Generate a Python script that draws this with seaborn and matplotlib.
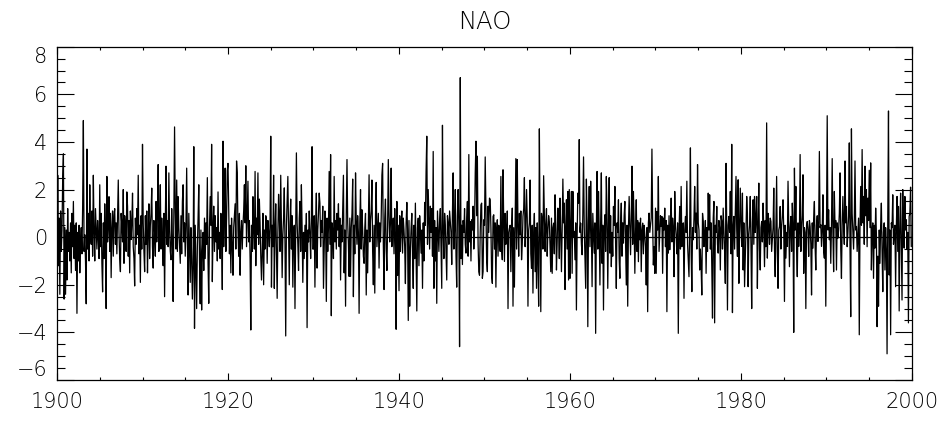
import numpy as np
import pandas as pd
import matplotlib
matplotlib.use("Agg")
import matplotlib.pyplot as plt
import seaborn as sns
from matplotlib.ticker import MultipleLocator, FixedLocator

# Monthly NAO index values, read off the picture decade by decade (Jan..Dec per row)
nao_1900s = [
    -3.0, 2.6, -1.2, 0.8, -2.4, 1.1, -0.6, 0.3, 2.5, 3.5, -2.6, 0.4,
    -2.4, 0.3, -1.8, 1.2, -0.6, 0.2, -1.0, 0.6, -1.5, 1.0, -0.4, 1.5,
    -0.9, 0.5, -1.4, 0.6, -3.2, 0.2, -1.0, 0.5, -1.5, -0.2, 0.4, -0.7,
    1.3, 4.9, -0.6, 0.1, -1.0, -2.8, 3.7, -0.5, 1.0, -1.0, 2.2, 0.1,
    -0.3, 1.1, -0.8, 2.6, 0.2, -1.0, 1.2, 0.3, -0.5, 0.7, 0.0, -0.9,
    2.2, -0.4, 1.0, -1.1, -2.3, 0.6, -0.9, 1.4, 0.3, -3.0, 2.55, -0.2,
    0.5, 1.7, -0.6, 1.0, -1.7, 0.4, 1.1, -0.8, 0.9, 1.2, -0.3, 0.6,
    -0.7, 0.8, 2.4, 0.2, -0.9, -1.45, 1.0, 0.5, -0.2, 2.0, -1.1, 0.9,
    0.4, -0.6, 1.9, 1.3, -0.8, 0.7, -1.5, 1.1, -0.1, 0.6, 1.85, -0.4,
    -0.9, -2.05, 0.8, -0.3, 1.2, 0.1, 2.6, -0.7, 0.5, -1.9, 0.9, -0.5,
]
nao_1910s = [
    3.9, 0.6, -0.6, -1.45, 0.9, -0.3, 1.1, -1.5, 0.2, 1.4, -0.9, 0.5,
    1.0, 2.06, -0.4, -1.3, 0.7, 0.2, -0.8, 1.5, -0.2, 0.9, 3.05, -0.6,
    0.5, 2.2, -0.5, 0.8, 0.1, -1.2, 1.0, -2.5, 0.6, 2.98, -0.3, 0.7,
    -0.4, 2.7, 0.3, -0.6, -0.95, 1.2, -0.1, -2.7, 0.8, 4.63, 1.1, -0.5,
    2.4, -0.6, 1.7, 0.4, -0.3, -1.1, 0.9, -0.7, 1.5, 2.2, -0.2, 0.6,
    -0.8, 0.5, 2.9, -0.2, -2.43, 1.0, -0.5, -1.9, 0.4, -0.9, -2.6, -1.2,
    3.8, -3.83, 0.5, -1.2, -3.0, -0.4, 0.8, 2.2, -1.0, -2.8, 0.3, -3.06,
    -0.6, 0.2, -1.4, 0.8, -0.9, 0.6, -0.3, 2.5, -1.1, -2.78, 0.4, 1.7,
    0.5, 3.9, -1.87, 0.3, 1.3, -0.6, 0.9, -0.2, 0.4, -1.0, 1.9, -0.5,
    0.2, -0.9, 1.0, 0.3, -2.2, 4.03, -0.4, 1.0, 2.9, -0.6, 0.8, 2.8,
]
nao_1920s = [
    3.1, 1.2, -0.7, 0.5, -1.5, 0.8, -0.3, -1.6, 0.4, 0.9, 1.4, -0.5,
    3.2, 2.7, 0.3, -0.8, 1.0, -1.6, 0.2, 0.7, -0.5, 0.5, 1.1, 2.2,
    0.6, 3.0, -0.4, 1.0, 2.35, -0.2, 0.7, -0.9, -3.9, 0.5, -0.6, 1.7,
    0.4, -0.5, 2.76, -1.2, 0.8, 0.1, 2.7, -0.3, 1.6, 0.6, -0.8, -1.8,
    -0.6, 1.0, -2.0, 0.3, -0.5, 0.9, 0.7, -1.1, 0.7, 0.2, -0.4, 0.6,
    4.24, -2.1, 0.5, -0.4, 2.6, -2.15, 0.3, 1.4, -0.7, -2.57, 0.2, 1.8,
    0.9, -0.6, 2.6, 0.4, -1.7, 0.1, 0.8, 2.07, -0.3, -4.15, 0.5, 1.6,
    2.55, 0.2, -2.0, 0.6, 1.6, -0.5, 0.9, -2.1, 0.3, 0.5, -3.0, 0.4,
    3.54, 0.6, -0.3, -1.4, 0.8, 1.5, -0.6, 2.2, 0.4, -1.9, 0.2, -0.9,
    0.5, -0.6, 1.0, -3.8, 0.3, -0.2, 1.1, 0.2, -0.9, 0.6, 3.8, -0.5,
]
nao_1930s = [
    -0.5, 0.9, -2.1, 0.4, 1.85, -1.3, 0.3, 1.0, 1.85, 1.43, -0.4, 0.7,
    0.2, 1.3, -2.15, -0.4, 1.1, 0.5, -2.7, 0.8, -0.6, 0.4, 2.76, -0.3,
    3.47, -3.3, 0.6, 0.25, -0.9, 2.55, -0.2, 0.7, -0.5, 1.0, 0.3, 1.4,
    -0.4, 0.8, -1.8, 0.5, -0.2, 1.1, 2.6, -1.5, 0.3, -2.9, 0.9, 3.26,
    0.6, -0.3, -1.65, 0.8, -1.65, 0.4, 1.0, 2.44, -2.5, 0.5, -0.7, 2.7,
    0.7, -0.3, 0.9, 0.2, -3.2, 0.6, 2.0, -0.5, 1.15, 0.3, -0.8, -1.1,
    0.4, 1.0, -2.43, 0.3, -1.5, 0.7, 2.62, -0.2, 0.7, 1.1, 2.4, -0.6,
    -2.0, 0.5, -2.35, 0.9, 2.3, -0.4, 0.25, 1.0, -1.3, 0.6, -0.2, 0.8,
    2.6, 3.1, -0.3, -2.2, 0.8, 1.6, -0.5, -1.4, 0.4, 3.26, 0.9, -0.2,
    0.6, 2.9, -0.4, 0.3, 0.8, -0.7, 1.2, 0.1, -3.87, 1.5, -1.6, 0.5,
]
nao_1940s = [
    -2.25, 0.9, -0.6, 0.52, 1.1, -0.67, 0.8, 0.3, -0.4, -1.95, 0.6, 1.46,
    0.3, -3.5, 0.7, -2.9, -0.5, 0.4, 1.0, -0.8, -2.15, 0.5, -0.9, 1.43,
    -0.7, -3.1, 0.4, 0.8, -1.2, 0.9, 0.24, -0.67, 0.3, -2.15, 0.6, -1.0,
    1.46, 0.5, 2.76, 4.24, -0.3, 2.0, 0.8, -0.5, 1.3, 0.2, 1.2, -0.8,
    3.6, -2.15, 0.7, -1.0, 0.4, -2.78, 1.1, 0.3, -0.6, 0.66, 1.2, -0.4,
    -2.15, 4.7, 0.3, -0.9, 1.0, 0.5, -0.7, -1.8, 0.9, 0.6, -0.3, 1.1,
    0.66, 0.2, -1.15, 1.0, 2.7, -0.5, 0.4, 2.0, -0.8, -2.1, 0.9, 2.0,
    0.4, -4.6, 6.7, -0.9, 0.5, -1.15, 0.7, 0.2, 1.2, -0.3, -0.67, 0.8,
    1.5, -0.8, 3.47, -0.2, 0.66, -1.0, 0.73, 0.3, 1.3, -0.5, 0.4, 2.7,
    4.03, 0.9, 3.4, -0.3, -1.45, -1.6, 0.2, 1.36, 1.43, -1.73, -1.45, 0.73,
]
nao_1950s = [
    0.5, 3.37, 1.22, -0.95, -1.45, 1.3, 0.2, 1.64, 1.57, 0.4, -1.6, -1.94,
    0.87, 0.94, -0.5, 0.6, -2.1, 0.3, 0.73, -0.8, 0.5, 0.03, -0.6, 2.55,
    -0.4, -0.95, 2.83, 0.6, -1.02, 1.0, -0.3, 0.03, 1.1, -3.0, 0.2, 0.38,
    0.5, -1.45, 0.3, 1.22, -2.9, 0.4, -2.1, 0.8, 3.3, -0.5, 3.26, 0.45,
    -0.8, 1.0, 0.1, 1.1, -0.95, -0.3, 0.87, 1.2, 2.5, -0.4, 0.6, 2.0,
    0.8, -2.9, 0.3, 0.6, 2.4, -0.7, -1.31, 0.5, -2.35, 0.2, 1.0, -1.45,
    0.4, -2.15, 0.6, -0.8, -2.9, 4.55, 0.3, -3.13, 1.0, 0.73, -0.5, 2.58,
    1.1, -0.6, 0.52, 1.2, -0.8, 0.3, 0.9, 0.66, -0.4, -1.45, 0.8, -1.52,
    0.4, 0.59, -0.7, 1.78, 0.6, -1.38, -0.2, 1.22, 0.5, -0.9, 1.64, 0.3,
    -1.45, 0.3, 2.44, 0.6, 1.43, -2.2, 0.4, 1.57, -0.5, 1.92, -1.8, 2.0,
]
nao_1960s = [
    -1.73, 0.5, 1.92, -1.52, 1.92, 0.03, 0.24, -0.95, 0.6, -3.06, 0.03, 1.85,
    1.43, 4.1, 0.2, 0.59, -0.3, -0.74, 1.0, 3.37, 0.4, -0.9, -2.15, 2.44,
    0.5, -3.76, 0.7, 2.13, -0.4, 2.35, 0.3, -2.08, 1.0, 0.2, -0.67, 0.6,
    -4.04, 0.4, 2.76, -0.5, 1.92, 0.3, -2.01, 0.6, 2.7, -1.1, 0.5, -3.06,
    0.3, 0.94, -0.6, 2.55, 1.0, -2.15, 0.4, 2.5, -0.67, 0.9, -1.24, 0.2,
    -0.8, 1.29, 0.5, 2.13, -0.3, -2.15, 0.6, 0.2, 1.57, -0.9, -1.73, 0.6,
    1.43, -0.8, 0.6, -0.25, 0.9, 1.5, -0.4, -2.01, 0.5, -2.9, 0.3, 1.71,
    0.4, -0.74, 0.8, 2.98, -0.3, 1.92, 0.5, -1.52, 0.2, 1.57, -0.6, 0.7,
    -1.03, 0.6, -0.11, 0.8, -1.45, 0.3, 0.59, -0.7, 0.5, 0.1, -0.4, -2.01,
    0.4, -3.13, 0.6, 1.01, 0.2, 0.52, 0.8, 3.7, 0.66, -1.17, -0.4, -1.52,
]
nao_1970s = [
    1.22, -1.52, 1.08, 0.3, 2.55, -0.6, 0.17, 0.9, 0.45, 0.87, -1.52, 0.8,
    0.3, 1.22, -0.4, 0.7, -3.13, 0.5, -0.67, 0.9, -0.53, 0.4, 1.64, -0.2,
    0.8, 0.4, -1.66, 1.92, 0.5, 0.03, -0.7, 0.6, -4.04, 0.3, 1.29, -0.5,
    2.13, -0.4, 0.45, 0.6, -2.57, 0.3, 0.87, 0.2, 2.35, -0.3, -0.95, -1.66,
    0.5, 3.75, -0.6, -2.29, 0.4, -0.11, 0.8, 2.13, 0.2, 1.01, -0.5, 3.05,
    0.6, 0.3, -1.38, -0.5, -1.24, -2.43, 1.0, 0.66, -0.4, 0.1, 0.7, -1.52,
    0.4, -0.6, 1.85, 0.3, 1.78, -0.5, 0.6, -1.24, -3.4, 0.8, 1.5, -3.6,
    0.5, 0.2, 1.29, -0.3, -0.67, 0.7, 0.4, -1.38, 0.9, 0.66, -0.5, 1.22,
    0.3, -0.6, -1.94, 3.1, 0.4, -3.06, 0.5, 0.87, 0.2, 1.92, -0.7, 3.9,
    -3.17, 0.4, 0.87, -0.5, 1.01, 2.55, 0.3, -0.81, 2.41, -1.94, 0.5, 2.06,
]
nao_1980s = [
    0.45, -0.39, 1.85, -1.38, 0.6, -2.08, -0.88, 0.3, 1.71, 1.01, -2.08, 0.1,
    0.5, 1.71, -0.4, -3.0, 0.6, 1.57, -0.3, 1.71, 0.2, 0.8, 1.71, -2.15,
    0.6, 2.27, -0.5, -1.38, 0.4, 0.66, -0.2, 1.43, 0.3, -1.24, 0.7, -0.4,
    4.8, -0.88, 1.0, 0.52, -0.3, 0.8, 0.66, -0.6, -0.11, 0.4, 2.06, -0.5,
    -1.66, 0.4, 2.55, -0.6, -2.15, 0.3, 0.45, 1.29, -0.5, 0.45, 0.9, 1.57,
    0.3, -2.7, 0.5, -0.88, 0.2, -0.39, 2.35, 0.6, -1.24, 0.4, 0.87, -0.6,
    1.43, 0.5, -4.0, 2.9, 0.3, 2.13, -0.5, -1.66, 0.6, -0.39, 0.2, 3.47,
    -0.6, 0.38, 0.9, 2.62, -1.52, 0.4, 0.2, -3.0, 0.5, 0.66, 0.3, -0.81,
    0.7, 0.45, -0.3, -2.43, 0.6, -0.46, 0.8, 1.5, -0.4, -1.38, 0.5, 0.9,
    -0.18, 0.6, 3.6, 0.4, 0.52, -0.39, 0.3, 1.78, -0.6, -0.88, 0.5, -2.9,
]
nao_1990s = [
    0.6, 5.1, 0.3, 1.15, -0.11, 0.4, -1.1, 0.5, 3.3, 0.2, -1.45, 1.92,
    0.4, 0.7, -1.38, 0.6, -0.04, 0.3, 1.0, 2.7, -0.5, -1.73, 0.6, 1.71,
    0.5, -0.3, 3.2, 0.6, 1.29, -0.4, 0.17, 0.9, 3.96, -0.5, -3.34, 4.55,
    1.0, 0.24, -0.5, 0.7, 3.2, 0.3, 0.45, -0.6, 0.1, 0.8, -4.1, 0.4,
    2.13, 0.5, 3.68, 0.6, 1.71, -0.3, 2.98, 0.9, 2.0, -0.4, 1.64, 0.7,
    2.81, 0.4, 3.12, -1.38, 0.3, 0.6, -1.73, 0.5, -0.46, 1.22, 0.2, -3.76,
    -0.8, -2.9, 0.3, -1.1, 0.5, 1.43, -0.6, -2.29, 0.2, 0.6, -1.38, 0.4,
    -0.5, -4.9, 0.8, 5.3, -1.59, 0.3, -4.1, 0.6, 0.4, 1.78, -0.3, 0.17,
    0.5, -2.08, 0.4, 1.71, -0.6, 1.29, -3.1, 0.3, 1.85, -0.4, -2.64, 2.0,
    0.6, -0.46, 1.71, 0.3, 0.73, -0.5, 0.2, -3.6, 0.87, 1.0, 2.1, -0.4,
]

decades = [nao_1900s, nao_1910s, nao_1920s, nao_1930s, nao_1940s,
           nao_1950s, nao_1960s, nao_1970s, nao_1980s, nao_1990s]
for d in decades:
    assert len(d) == 120, len(d)

values = np.concatenate([np.asarray(d, dtype=float) for d in decades])
time = 1900 + np.arange(values.size) / 12.0
df = pd.DataFrame({"year": time, "nao": values})

title_text = "NAO"
x_ticks = [1900, 1920, 1940, 1960, 1980, 2000]
y_ticks = [-6, -4, -2, 0, 2, 4, 6, 8]

sns.set_style("ticks")
plt.rcParams["font.family"] = ["DejaVu Sans"]
plt.rcParams["axes.unicode_minus"] = True

W, H = 947, 421
fig = plt.figure(figsize=(W / 100, H / 100), dpi=100)
ax = fig.add_axes([57 / W, 1 - 380 / H, (912 - 57) / W, (380 - 46.7) / H])

sns.lineplot(data=df, x="year", y="nao", ax=ax, color="black",
             linewidth=0.9, estimator=None, sort=False)
ax.axhline(0, color="black", linewidth=0.9)

ax.set_xlim(x_ticks[0], x_ticks[-1])
ax.set_ylim(y_ticks[0], y_ticks[-1])
ax.set_xlabel("")
ax.set_ylabel("")

ax.xaxis.set_major_locator(FixedLocator(x_ticks))
ax.xaxis.set_minor_locator(MultipleLocator(5))
ax.yaxis.set_major_locator(FixedLocator(y_ticks))
ax.yaxis.set_minor_locator(MultipleLocator(0.5))

ax.tick_params(axis="y", which="major", direction="in", length=12.2, width=0.8,
               left=True, right=True, labelsize=15, pad=7, colors="black")
ax.tick_params(axis="y", which="minor", direction="in", length=6, width=0.8,
               left=True, right=True, colors="black")
ax.tick_params(axis="x", which="major", direction="in", length=5, width=0.8,
               bottom=True, top=True, labelsize=15, pad=9, colors="black")
ax.tick_params(axis="x", which="minor", direction="in", length=2.5, width=0.8,
               bottom=True, top=True, colors="black")

for sp in ax.spines.values():
    sp.set_visible(True)
    sp.set_linewidth(0.9)
    sp.set_color("black")

fig.canvas.draw()
for tick in ax.xaxis.get_major_ticks() + ax.yaxis.get_major_ticks():
    tick.label1.set_fontweight("light")
yt = ax.yaxis.get_major_ticks()
yt[0].label1.set_verticalalignment("bottom")
yt[-1].label1.set_verticalalignment("top")

fig.text((57 + 912) / 2 / W, 1 - 22 / H, title_text, ha="center", va="center",
         fontsize=17.5, fontweight="light", color="black")

fig.savefig("out.png", dpi=100)
